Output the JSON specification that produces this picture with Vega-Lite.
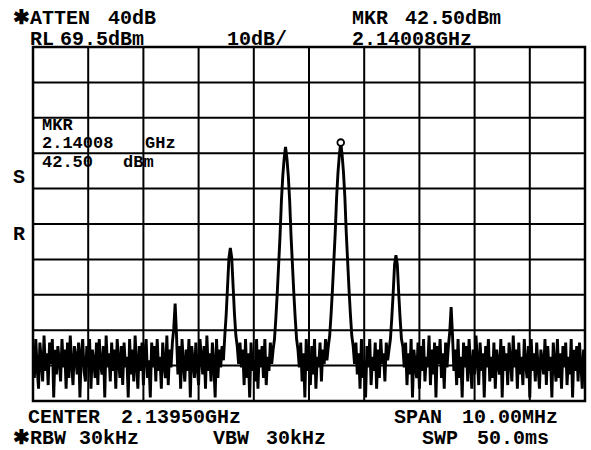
{
"$schema": "https://vega.github.io/schema/vega-lite/v6.json",
"width": 552, "height": 354,
"autosize": {"type": "none"},
"padding": {"left": 33, "top": 47, "right": 6, "bottom": 49},
"background": "white",
"config": {"view": {"stroke": "black", "strokeWidth": 2.5}},
"datasets": {
"vgrid": [{"MHz":2134.5},{"MHz":2135.5},{"MHz":2136.5},{"MHz":2137.5},{"MHz":2138.5},{"MHz":2139.5},{"MHz":2140.5},{"MHz":2141.5},{"MHz":2142.5},{"MHz":2143.5},{"MHz":2144.5}],
"hgrid": [{"dBm":-30.5},{"dBm":-20.5},{"dBm":-10.5},{"dBm":-0.5},{"dBm":9.5},{"dBm":19.5},{"dBm":29.5},{"dBm":39.5},{"dBm":49.5},{"dBm":59.5},{"dBm":69.5}],
"trace": [
{"MHz":2134.5,"dBm":-15},{"MHz":2134.525,"dBm":-24},{"MHz":2134.55,"dBm":-13},{"MHz":2134.575,"dBm":-21},{"MHz":2134.6,"dBm":-27},{"MHz":2134.625,"dBm":-14},{"MHz":2134.65,"dBm":-19},{"MHz":2134.675,"dBm":-25},{"MHz":2134.7,"dBm":-12},{"MHz":2134.725,"dBm":-22},
{"MHz":2134.75,"dBm":-17},{"MHz":2134.775,"dBm":-26},{"MHz":2134.8,"dBm":-14},{"MHz":2134.825,"dBm":-20},{"MHz":2134.85,"dBm":-13},{"MHz":2134.875,"dBm":-29.5},{"MHz":2134.9,"dBm":-16},{"MHz":2134.925,"dBm":-23},{"MHz":2134.95,"dBm":-15},{"MHz":2134.975,"dBm":-19},
{"MHz":2135,"dBm":-25},{"MHz":2135.025,"dBm":-13},{"MHz":2135.05,"dBm":-21},{"MHz":2135.075,"dBm":-16},{"MHz":2135.1,"dBm":-27},{"MHz":2135.125,"dBm":-14},{"MHz":2135.15,"dBm":-24},{"MHz":2135.175,"dBm":-12},{"MHz":2135.2,"dBm":-20},{"MHz":2135.225,"dBm":-26},
{"MHz":2135.25,"dBm":-15},{"MHz":2135.275,"dBm":-18},{"MHz":2135.3,"dBm":-23},{"MHz":2135.325,"dBm":-14},{"MHz":2135.35,"dBm":-29.5},{"MHz":2135.375,"dBm":-17},{"MHz":2135.4,"dBm":-13},{"MHz":2135.425,"dBm":-22},{"MHz":2135.45,"dBm":-25},{"MHz":2135.475,"dBm":-15},
{"MHz":2135.5,"dBm":-21},{"MHz":2135.525,"dBm":-13},{"MHz":2135.55,"dBm":-27},{"MHz":2135.575,"dBm":-16},{"MHz":2135.6,"dBm":-19},{"MHz":2135.625,"dBm":-24},{"MHz":2135.65,"dBm":-14},{"MHz":2135.675,"dBm":-26},{"MHz":2135.7,"dBm":-13},{"MHz":2135.725,"dBm":-20},
{"MHz":2135.75,"dBm":-23},{"MHz":2135.775,"dBm":-15},{"MHz":2135.8,"dBm":-29.5},{"MHz":2135.825,"dBm":-12},{"MHz":2135.85,"dBm":-21},{"MHz":2135.875,"dBm":-17},{"MHz":2135.9,"dBm":-25},{"MHz":2135.925,"dBm":-14},{"MHz":2135.95,"dBm":-22},{"MHz":2135.975,"dBm":-16},
{"MHz":2136,"dBm":-27},{"MHz":2136.025,"dBm":-13},{"MHz":2136.05,"dBm":-19},{"MHz":2136.075,"dBm":-24},{"MHz":2136.1,"dBm":-15},{"MHz":2136.125,"dBm":-26},{"MHz":2136.15,"dBm":-14},{"MHz":2136.175,"dBm":-21},{"MHz":2136.2,"dBm":-18},{"MHz":2136.225,"dBm":-29.5},
{"MHz":2136.25,"dBm":-13},{"MHz":2136.275,"dBm":-23},{"MHz":2136.3,"dBm":-16},{"MHz":2136.325,"dBm":-25},{"MHz":2136.35,"dBm":-12},{"MHz":2136.375,"dBm":-20},{"MHz":2136.4,"dBm":-27},{"MHz":2136.425,"dBm":-15},{"MHz":2136.45,"dBm":-22},{"MHz":2136.475,"dBm":-14},
{"MHz":2136.5,"dBm":-26},{"MHz":2136.525,"dBm":-17},{"MHz":2136.55,"dBm":-13},{"MHz":2136.575,"dBm":-24},{"MHz":2136.6,"dBm":-19},{"MHz":2136.625,"dBm":-29.5},{"MHz":2136.65,"dBm":-14},{"MHz":2136.675,"dBm":-21},{"MHz":2136.7,"dBm":-15},{"MHz":2136.725,"dBm":-25},
{"MHz":2136.75,"dBm":-13},{"MHz":2136.775,"dBm":-22},{"MHz":2136.8,"dBm":-18},{"MHz":2136.825,"dBm":-27},{"MHz":2136.85,"dBm":-14},{"MHz":2136.875,"dBm":-20},{"MHz":2136.9,"dBm":-24},{"MHz":2136.925,"dBm":-12},{"MHz":2136.95,"dBm":-26},{"MHz":2136.975,"dBm":-16},
{"MHz":2137,"dBm":-21},{"MHz":2137.025,"dBm":-14},{"MHz":2137.05,"dBm":-10},{"MHz":2137.075,"dBm":-3},{"MHz":2137.1,"dBm":-12},{"MHz":2137.125,"dBm":-23},{"MHz":2137.15,"dBm":-15},{"MHz":2137.175,"dBm":-27},{"MHz":2137.2,"dBm":-13},{"MHz":2137.225,"dBm":-20},
{"MHz":2137.25,"dBm":-25},{"MHz":2137.275,"dBm":-16},{"MHz":2137.3,"dBm":-22},{"MHz":2137.325,"dBm":-13},{"MHz":2137.35,"dBm":-29.5},{"MHz":2137.375,"dBm":-15},{"MHz":2137.4,"dBm":-19},{"MHz":2137.425,"dBm":-24},{"MHz":2137.45,"dBm":-14},{"MHz":2137.475,"dBm":-21},
{"MHz":2137.5,"dBm":-26},{"MHz":2137.525,"dBm":-13},{"MHz":2137.55,"dBm":-18},{"MHz":2137.575,"dBm":-23},{"MHz":2137.6,"dBm":-15},{"MHz":2137.625,"dBm":-27},{"MHz":2137.65,"dBm":-12},{"MHz":2137.675,"dBm":-22},{"MHz":2137.7,"dBm":-17},{"MHz":2137.725,"dBm":-25},
{"MHz":2137.75,"dBm":-14},{"MHz":2137.775,"dBm":-20},{"MHz":2137.8,"dBm":-29.5},{"MHz":2137.825,"dBm":-13},{"MHz":2137.85,"dBm":-24},{"MHz":2137.875,"dBm":-16},{"MHz":2137.9,"dBm":-21},{"MHz":2137.925,"dBm":-15},{"MHz":2137.95,"dBm":-19},{"MHz":2137.975,"dBm":-12},
{"MHz":2138,"dBm":-6},{"MHz":2138.025,"dBm":2},{"MHz":2138.05,"dBm":10},{"MHz":2138.075,"dBm":12.7},{"MHz":2138.1,"dBm":10},{"MHz":2138.125,"dBm":2},{"MHz":2138.15,"dBm":-6},{"MHz":2138.175,"dBm":-12},{"MHz":2138.2,"dBm":-15},{"MHz":2138.225,"dBm":-20},
{"MHz":2138.25,"dBm":-14},{"MHz":2138.275,"dBm":-21},{"MHz":2138.3,"dBm":-16},{"MHz":2138.325,"dBm":-26},{"MHz":2138.35,"dBm":-13},{"MHz":2138.375,"dBm":-24},{"MHz":2138.4,"dBm":-17},{"MHz":2138.425,"dBm":-29.5},{"MHz":2138.45,"dBm":-14},{"MHz":2138.475,"dBm":-22},
{"MHz":2138.5,"dBm":-19},{"MHz":2138.525,"dBm":-25},{"MHz":2138.55,"dBm":-13},{"MHz":2138.575,"dBm":-27},{"MHz":2138.6,"dBm":-16},{"MHz":2138.625,"dBm":-21},{"MHz":2138.65,"dBm":-15},{"MHz":2138.675,"dBm":-24},{"MHz":2138.7,"dBm":-13},{"MHz":2138.725,"dBm":-26},
{"MHz":2138.75,"dBm":-18},{"MHz":2138.775,"dBm":-22},{"MHz":2138.8,"dBm":-14},{"MHz":2138.825,"dBm":-20},{"MHz":2138.85,"dBm":-16},{"MHz":2138.875,"dBm":-13},{"MHz":2138.9,"dBm":-7},{"MHz":2138.925,"dBm":0},{"MHz":2138.95,"dBm":8},{"MHz":2138.975,"dBm":16},
{"MHz":2139,"dBm":26},{"MHz":2139.025,"dBm":33},{"MHz":2139.05,"dBm":38},{"MHz":2139.075,"dBm":41.3},{"MHz":2139.1,"dBm":38},{"MHz":2139.125,"dBm":33},{"MHz":2139.15,"dBm":26},{"MHz":2139.175,"dBm":16},{"MHz":2139.2,"dBm":8},{"MHz":2139.225,"dBm":0},
{"MHz":2139.25,"dBm":-7},{"MHz":2139.275,"dBm":-13},{"MHz":2139.3,"dBm":-16},{"MHz":2139.325,"dBm":-21},{"MHz":2139.35,"dBm":-14},{"MHz":2139.375,"dBm":-25},{"MHz":2139.4,"dBm":-17},{"MHz":2139.425,"dBm":-29.5},{"MHz":2139.45,"dBm":-13},{"MHz":2139.475,"dBm":-22},
{"MHz":2139.5,"dBm":-19},{"MHz":2139.525,"dBm":-26},{"MHz":2139.55,"dBm":-15},{"MHz":2139.575,"dBm":-23},{"MHz":2139.6,"dBm":-13},{"MHz":2139.625,"dBm":-27},{"MHz":2139.65,"dBm":-18},{"MHz":2139.675,"dBm":-21},{"MHz":2139.7,"dBm":-14},{"MHz":2139.725,"dBm":-25},
{"MHz":2139.75,"dBm":-16},{"MHz":2139.775,"dBm":-20},{"MHz":2139.8,"dBm":-13},{"MHz":2139.825,"dBm":-19},{"MHz":2139.85,"dBm":-15},{"MHz":2139.875,"dBm":-12},{"MHz":2139.9,"dBm":-6},{"MHz":2139.925,"dBm":1},{"MHz":2139.95,"dBm":9},{"MHz":2139.975,"dBm":17},
{"MHz":2140,"dBm":27},{"MHz":2140.025,"dBm":34},{"MHz":2140.05,"dBm":39},{"MHz":2140.075,"dBm":42.5},{"MHz":2140.1,"dBm":39},{"MHz":2140.125,"dBm":34},{"MHz":2140.15,"dBm":27},{"MHz":2140.175,"dBm":17},{"MHz":2140.2,"dBm":9},{"MHz":2140.225,"dBm":1},
{"MHz":2140.25,"dBm":-6},{"MHz":2140.275,"dBm":-12},{"MHz":2140.3,"dBm":-15},{"MHz":2140.325,"dBm":-20},{"MHz":2140.35,"dBm":-14},{"MHz":2140.375,"dBm":-23},{"MHz":2140.4,"dBm":-17},{"MHz":2140.425,"dBm":-27},{"MHz":2140.45,"dBm":-13},{"MHz":2140.475,"dBm":-24},
{"MHz":2140.5,"dBm":-19},{"MHz":2140.525,"dBm":-29.5},{"MHz":2140.55,"dBm":-15},{"MHz":2140.575,"dBm":-21},{"MHz":2140.6,"dBm":-13},{"MHz":2140.625,"dBm":-26},{"MHz":2140.65,"dBm":-18},{"MHz":2140.675,"dBm":-22},{"MHz":2140.7,"dBm":-14},{"MHz":2140.725,"dBm":-27},
{"MHz":2140.75,"dBm":-16},{"MHz":2140.775,"dBm":-24},{"MHz":2140.8,"dBm":-13},{"MHz":2140.825,"dBm":-20},{"MHz":2140.85,"dBm":-17},{"MHz":2140.875,"dBm":-25},{"MHz":2140.9,"dBm":-14},{"MHz":2140.925,"dBm":-19},{"MHz":2140.95,"dBm":-16},{"MHz":2140.975,"dBm":-13},
{"MHz":2141,"dBm":-7},{"MHz":2141.025,"dBm":0},{"MHz":2141.05,"dBm":8},{"MHz":2141.075,"dBm":10.7},{"MHz":2141.1,"dBm":8},{"MHz":2141.125,"dBm":0},{"MHz":2141.15,"dBm":-7},{"MHz":2141.175,"dBm":-13},{"MHz":2141.2,"dBm":-15},{"MHz":2141.225,"dBm":-21},
{"MHz":2141.25,"dBm":-14},{"MHz":2141.275,"dBm":-26},{"MHz":2141.3,"dBm":-17},{"MHz":2141.325,"dBm":-23},{"MHz":2141.35,"dBm":-13},{"MHz":2141.375,"dBm":-29.5},{"MHz":2141.4,"dBm":-16},{"MHz":2141.425,"dBm":-20},{"MHz":2141.45,"dBm":-24},{"MHz":2141.475,"dBm":-14},
{"MHz":2141.5,"dBm":-27},{"MHz":2141.525,"dBm":-15},{"MHz":2141.55,"dBm":-22},{"MHz":2141.575,"dBm":-13},{"MHz":2141.6,"dBm":-25},{"MHz":2141.625,"dBm":-18},{"MHz":2141.65,"dBm":-21},{"MHz":2141.675,"dBm":-12},{"MHz":2141.7,"dBm":-26},{"MHz":2141.725,"dBm":-16},
{"MHz":2141.75,"dBm":-23},{"MHz":2141.775,"dBm":-14},{"MHz":2141.8,"dBm":-29.5},{"MHz":2141.825,"dBm":-15},{"MHz":2141.85,"dBm":-20},{"MHz":2141.875,"dBm":-13},{"MHz":2141.9,"dBm":-24},{"MHz":2141.925,"dBm":-17},{"MHz":2141.95,"dBm":-27},{"MHz":2141.975,"dBm":-14},
{"MHz":2142,"dBm":-21},{"MHz":2142.025,"dBm":-15},{"MHz":2142.05,"dBm":-11},{"MHz":2142.075,"dBm":-4},{"MHz":2142.1,"dBm":-12},{"MHz":2142.125,"dBm":-22},{"MHz":2142.15,"dBm":-16},{"MHz":2142.175,"dBm":-26},{"MHz":2142.2,"dBm":-13},{"MHz":2142.225,"dBm":-24},
{"MHz":2142.25,"dBm":-18},{"MHz":2142.275,"dBm":-29.5},{"MHz":2142.3,"dBm":-14},{"MHz":2142.325,"dBm":-21},{"MHz":2142.35,"dBm":-15},{"MHz":2142.375,"dBm":-25},{"MHz":2142.4,"dBm":-13},{"MHz":2142.425,"dBm":-20},{"MHz":2142.45,"dBm":-27},{"MHz":2142.475,"dBm":-16},
{"MHz":2142.5,"dBm":-23},{"MHz":2142.525,"dBm":-12},{"MHz":2142.55,"dBm":-19},{"MHz":2142.575,"dBm":-26},{"MHz":2142.6,"dBm":-14},{"MHz":2142.625,"dBm":-22},{"MHz":2142.65,"dBm":-17},{"MHz":2142.675,"dBm":-29.5},{"MHz":2142.7,"dBm":-15},{"MHz":2142.725,"dBm":-21},
{"MHz":2142.75,"dBm":-13},{"MHz":2142.775,"dBm":-25},{"MHz":2142.8,"dBm":-18},{"MHz":2142.825,"dBm":-24},{"MHz":2142.85,"dBm":-14},{"MHz":2142.875,"dBm":-27},{"MHz":2142.9,"dBm":-16},{"MHz":2142.925,"dBm":-20},{"MHz":2142.95,"dBm":-23},{"MHz":2142.975,"dBm":-13},
{"MHz":2143,"dBm":-29.5},{"MHz":2143.025,"dBm":-15},{"MHz":2143.05,"dBm":-22},{"MHz":2143.075,"dBm":-17},{"MHz":2143.1,"dBm":-26},{"MHz":2143.125,"dBm":-14},{"MHz":2143.15,"dBm":-19},{"MHz":2143.175,"dBm":-25},{"MHz":2143.2,"dBm":-12},{"MHz":2143.225,"dBm":-21},
{"MHz":2143.25,"dBm":-16},{"MHz":2143.275,"dBm":-27},{"MHz":2143.3,"dBm":-14},{"MHz":2143.325,"dBm":-23},{"MHz":2143.35,"dBm":-18},{"MHz":2143.375,"dBm":-26},{"MHz":2143.4,"dBm":-13},{"MHz":2143.425,"dBm":-20},{"MHz":2143.45,"dBm":-24},{"MHz":2143.475,"dBm":-15},
{"MHz":2143.5,"dBm":-29.5},{"MHz":2143.525,"dBm":-13},{"MHz":2143.55,"dBm":-22},{"MHz":2143.575,"dBm":-17},{"MHz":2143.6,"dBm":-25},{"MHz":2143.625,"dBm":-14},{"MHz":2143.65,"dBm":-21},{"MHz":2143.675,"dBm":-27},{"MHz":2143.7,"dBm":-16},{"MHz":2143.725,"dBm":-19},
{"MHz":2143.75,"dBm":-23},{"MHz":2143.775,"dBm":-13},{"MHz":2143.8,"dBm":-26},{"MHz":2143.825,"dBm":-15},{"MHz":2143.85,"dBm":-22},{"MHz":2143.875,"dBm":-18},{"MHz":2143.9,"dBm":-29.5},{"MHz":2143.925,"dBm":-14},{"MHz":2143.95,"dBm":-20},{"MHz":2143.975,"dBm":-25},
{"MHz":2144,"dBm":-13},{"MHz":2144.025,"dBm":-24},{"MHz":2144.05,"dBm":-17},{"MHz":2144.075,"dBm":-27},{"MHz":2144.1,"dBm":-15},{"MHz":2144.125,"dBm":-21},{"MHz":2144.15,"dBm":-14},{"MHz":2144.175,"dBm":-26},{"MHz":2144.2,"dBm":-18},{"MHz":2144.225,"dBm":-23},
{"MHz":2144.25,"dBm":-13},{"MHz":2144.275,"dBm":-29.5},{"MHz":2144.3,"dBm":-16},{"MHz":2144.325,"dBm":-22},{"MHz":2144.35,"dBm":-15},{"MHz":2144.375,"dBm":-25},{"MHz":2144.4,"dBm":-14},{"MHz":2144.425,"dBm":-20},{"MHz":2144.45,"dBm":-27},{"MHz":2144.475,"dBm":-16},
{"MHz":2144.5,"dBm":-22}
],
"marker": [{"MHz":2140.075,"dBm":42.5}],
"labels": [
{"MHz":2134.138,"dBm":77.6,"text":"✱ATTEN"},
{"MHz":2135.859,"dBm":77.6,"text":"40dB"},
{"MHz":2134.446,"dBm":71.7,"text":"RL"},
{"MHz":2134.989,"dBm":71.7,"text":"69.5dBm"},
{"MHz":2138.014,"dBm":71.7,"text":"10dB/"},
{"MHz":2140.279,"dBm":77.6,"text":"MKR"},
{"MHz":2141.239,"dBm":77.6,"text":"42.50dBm"},
{"MHz":2140.279,"dBm":71.7,"text":"2.14008GHz"},
{"MHz":2134.138,"dBm":32.9,"text":"S"},
{"MHz":2134.138,"dBm":16.8,"text":"R"},
{"MHz":2134.409,"dBm":-35.0,"text":"CENTER"},
{"MHz":2136.094,"dBm":-35.0,"text":"2.13950GHz"},
{"MHz":2141.04,"dBm":-35.0,"text":"SPAN"},
{"MHz":2142.272,"dBm":-35.0,"text":"10.00MHz"},
{"MHz":2134.138,"dBm":-40.9,"text":"✱RBW"},
{"MHz":2135.333,"dBm":-40.9,"text":"30kHz"},
{"MHz":2137.761,"dBm":-40.9,"text":"VBW"},
{"MHz":2138.721,"dBm":-40.9,"text":"30kHz"},
{"MHz":2141.547,"dBm":-40.9,"text":"SWP"},
{"MHz":2142.543,"dBm":-40.9,"text":"50.0ms"}
],
"boxlabels": [
{"MHz":2134.663,"dBm":47.6,"text":"MKR"},
{"MHz":2134.663,"dBm":42.4,"text":"2.14008"},
{"MHz":2136.529,"dBm":42.4,"text":"GHz"},
{"MHz":2134.663,"dBm":37.1,"text":"42.50"},
{"MHz":2136.13,"dBm":37.1,"text":"dBm"}
]
},
"layer": [
{
"data": {"name": "vgrid"},
"mark": {"type": "rule", "color": "black", "strokeWidth": 2},
"encoding": {
"x": {"field": "MHz", "type": "quantitative", "scale": {"domain": [2134.5, 2144.5], "nice": false, "zero": false}, "axis": null}
}
},
{
"data": {"name": "hgrid"},
"mark": {"type": "rule", "color": "black", "strokeWidth": 2},
"encoding": {
"y": {"field": "dBm", "type": "quantitative", "scale": {"domain": [-30.5, 69.5], "nice": false, "zero": false}, "axis": null}
}
},
{
"data": {"name": "trace"},
"mark": {"type": "line", "color": "black", "strokeWidth": 2.9, "clip": true},
"encoding": {
"x": {"field": "MHz", "type": "quantitative", "scale": {"domain": [2134.5, 2144.5], "nice": false, "zero": false}, "axis": null},
"y": {"field": "dBm", "type": "quantitative", "scale": {"domain": [-30.5, 69.5], "nice": false, "zero": false}, "axis": null}
}
},
{
"data": {"name": "marker"},
"mark": {"type": "point", "shape": "circle", "size": 45, "filled": true, "fill": "white", "stroke": "black", "strokeWidth": 1.8, "opacity": 1},
"encoding": {
"x": {"field": "MHz", "type": "quantitative", "axis": null},
"y": {"field": "dBm", "type": "quantitative", "axis": null}
}
},
{
"data": {"name": "labels"},
"mark": {"type": "text", "align": "left", "baseline": "middle", "font": "Liberation Mono", "fontSize": 20, "fontWeight": "bold", "color": "black"},
"encoding": {
"x": {"field": "MHz", "type": "quantitative", "axis": null},
"y": {"field": "dBm", "type": "quantitative", "axis": null},
"text": {"field": "text"}
}
},
{
"data": {"name": "boxlabels"},
"mark": {"type": "text", "align": "left", "baseline": "middle", "font": "Liberation Mono", "fontSize": 17, "fontWeight": "bold", "color": "black"},
"encoding": {
"x": {"field": "MHz", "type": "quantitative", "axis": null},
"y": {"field": "dBm", "type": "quantitative", "axis": null},
"text": {"field": "text"}
}
}
]
}
